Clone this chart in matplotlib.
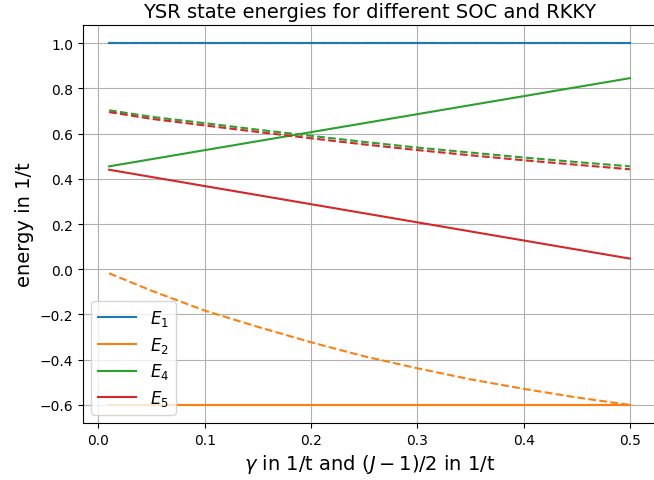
import numpy as np
import matplotlib
matplotlib.use("Agg")
import matplotlib.pyplot as plt

# x values (gamma / (J-1)/2)
x_lin = [0.01, 0.5]
x_curve = [0.01, 0.05, 0.1, 0.15, 0.2, 0.25, 0.3, 0.35, 0.4, 0.45, 0.5]

# Solid series (SOC)
E1_solid = [1.0, 1.0]
E2_solid = [-0.6, -0.6]
E4_solid = [0.455, 0.845]
E5_solid = [0.44, 0.047]

# Dashed series (RKKY)
E1_dash = [1.0] * 11
E2_dash = [-0.018, -0.095, -0.183, -0.255, -0.323, -0.385, -0.438, -0.487, -0.529, -0.567, -0.600]
E4_dash = [0.703, 0.674, 0.646, 0.617, 0.590, 0.563, 0.538, 0.516, 0.494, 0.474, 0.455]
E5_dash = [0.695, 0.665, 0.636, 0.607, 0.579, 0.552, 0.527, 0.504, 0.482, 0.462, 0.442]

labels = ["$E_1$", "$E_2$", "$E_4$", "$E_5$"]
colors = ["C0", "C1", "C2", "C3"]

fig = plt.figure(figsize=(6.54, 4.81), dpi=100)
ax = fig.add_axes([0.127, 0.1185, 0.876, 0.8274])

solids = [E1_solid, E2_solid, E4_solid, E5_solid]
dashes = [E1_dash, E2_dash, E4_dash, E5_dash]
for s, lab, c in zip(solids, labels, colors):
    ax.plot(x_lin, s, color=c, label=lab)
for d, c in zip(dashes, colors):
    ax.plot(x_curve, d, color=c, linestyle="--")

ax.set_title("YSR state energies for different SOC and RKKY", fontsize=14)
ax.set_xlabel(r"$\gamma$ in 1/t and $(J-1)/2$ in 1/t", fontsize=14)
ax.set_ylabel("energy in 1/t", fontsize=14)
ax.grid(True)
ax.legend(loc="lower left", fontsize=12, handlelength=2.3, labelspacing=0.4)

fig.savefig("out.png", dpi=100)
